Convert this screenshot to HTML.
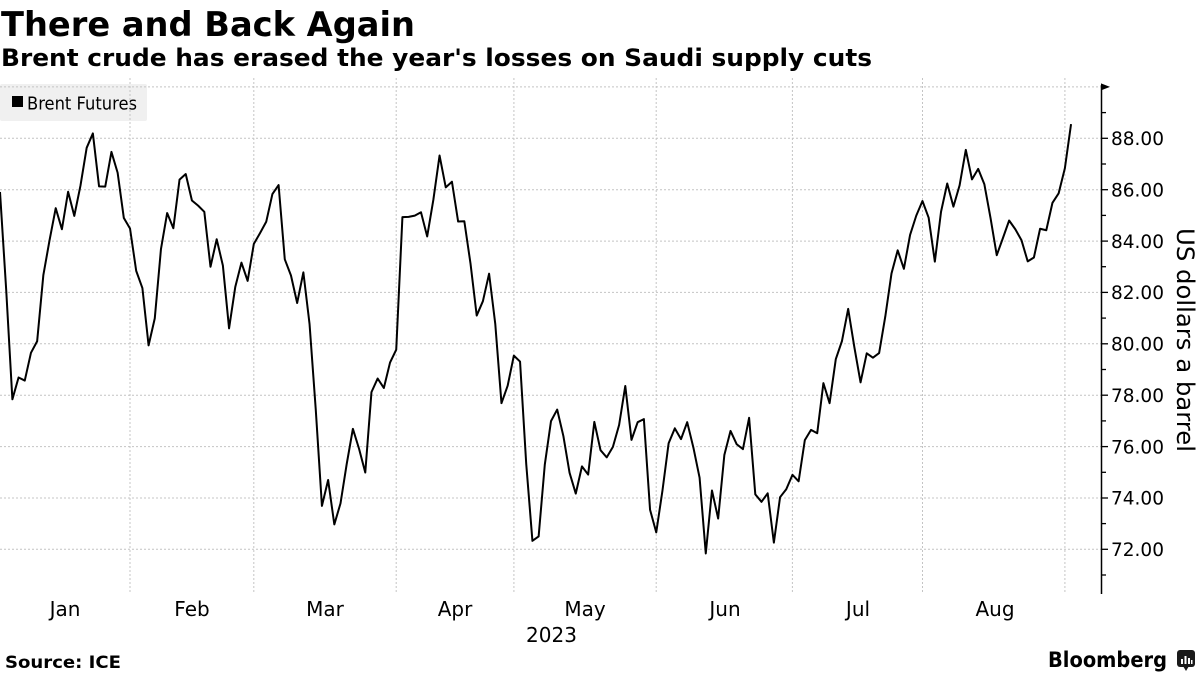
<!DOCTYPE html>
<html>
<head>
<meta charset="utf-8">
<style>
html,body{margin:0;padding:0;background:#fff;}
svg{display:block;}
</style>
</head>
<body>
<svg width="1200" height="675" viewBox="0 0 1200 675" xmlns="http://www.w3.org/2000/svg">
  <rect x="0" y="0" width="1200" height="675" fill="#ffffff"/>

  <!-- Title -->
  <text x="1" y="36" font-family="'DejaVu Sans', 'Liberation Sans', sans-serif" font-weight="bold" font-size="34" textLength="414" lengthAdjust="spacingAndGlyphs" fill="#000">There and Back Again</text>
  <text x="1" y="66" font-family="'DejaVu Sans', 'Liberation Sans', sans-serif" font-weight="bold" font-size="24" textLength="871" lengthAdjust="spacingAndGlyphs" fill="#000">Brent crude has erased the year's losses on Saudi supply cuts</text>

  <!-- Legend box -->
  <rect x="0" y="84" width="147" height="37" rx="2" fill="#f0f0f0"/>
  <rect x="12" y="96" width="11" height="11" fill="#000"/>
  <text x="27" y="109.5" font-family="'DejaVu Sans', 'Liberation Sans', sans-serif" font-size="17.5" textLength="110" lengthAdjust="spacingAndGlyphs" fill="#000">Brent Futures</text>

  <!-- Horizontal gridlines -->
  <g stroke="#c4c4c4" stroke-width="1" stroke-dasharray="2,2" fill="none">
    <line x1="0" x2="1101" y1="86.9" y2="86.9"/>
    <line x1="0" x2="1101" y1="138.3" y2="138.3"/>
    <line x1="0" x2="1101" y1="189.7" y2="189.7"/>
    <line x1="0" x2="1101" y1="241.1" y2="241.1"/>
    <line x1="0" x2="1101" y1="292.4" y2="292.4"/>
    <line x1="0" x2="1101" y1="343.8" y2="343.8"/>
    <line x1="0" x2="1101" y1="395.2" y2="395.2"/>
    <line x1="0" x2="1101" y1="446.6" y2="446.6"/>
    <line x1="0" x2="1101" y1="498.0" y2="498.0"/>
    <line x1="0" x2="1101" y1="549.3" y2="549.3"/>
  </g>
  <!-- Vertical gridlines (month ends) -->
  <g stroke="#c4c4c4" stroke-width="1" stroke-dasharray="2,2" fill="none">
    <line x1="130.0" x2="130.0" y1="78" y2="594"/>
    <line x1="253.8" x2="253.8" y1="78" y2="594"/>
    <line x1="396.2" x2="396.2" y1="78" y2="594"/>
    <line x1="513.9" x2="513.9" y1="78" y2="594"/>
    <line x1="656.2" x2="656.2" y1="78" y2="594"/>
    <line x1="792.4" x2="792.4" y1="78" y2="594"/>
    <line x1="922.5" x2="922.5" y1="78" y2="594"/>
    <line x1="1064.9" x2="1064.9" y1="78" y2="594"/>
  </g>

  <!-- Data line -->
  <g transform="matrix(6.191 0 0 -25.69 0 2399.02)">
    <polyline fill="none" stroke="#000" stroke-width="2" stroke-linejoin="round" vector-effect="non-scaling-stroke"
      points="0,85.91 1,82.10 2,77.84 3,78.69 4,78.57 5,79.65 6,80.10 7,82.67 8,84.03 9,85.28 10,84.46 11,85.92 12,84.98 13,86.16 14,87.63 15,88.19 16,86.13 17,86.12 18,87.47 19,86.66 20,84.90 21,84.49 22,82.84 23,82.17 24,79.94 25,80.99 26,83.69 27,85.09 28,84.50 29,86.39 30,86.61 31,85.58 32,85.38 33,85.14 34,83.00 35,84.07 36,83.05 37,80.60 38,82.21 39,83.16 40,82.45 41,83.89 42,84.31 43,84.75 44,85.83 45,86.18 46,83.29 47,82.66 48,81.59 49,82.78 50,80.77 51,77.45 52,73.69 53,74.70 54,72.97 55,73.79 56,75.32 57,76.69 58,75.91 59,74.99 60,78.12 61,78.65 62,78.28 63,79.27 64,79.77 65,84.93 66,84.94 67,84.99 68,85.12 69,84.18 70,85.61 71,87.33 72,86.09 73,86.31 74,84.76 75,84.77 76,83.12 77,81.10 78,81.66 79,82.73 80,80.77 81,77.69 82,78.37 83,79.54 84,79.31 85,75.32 86,72.33 87,72.50 88,75.30 89,76.99 90,77.44 91,76.41 92,74.98 93,74.17 94,75.23 95,74.91 96,76.96 97,75.86 98,75.58 99,75.99 100,76.84 101,78.36 102,76.26 103,76.95 104,77.07 105,73.54 106,72.66 107,74.28 108,76.13 109,76.71 110,76.29 111,76.95 112,75.96 113,74.79 114,71.84 115,74.29 116,73.20 117,75.67 118,76.61 119,76.09 120,75.90 121,77.12 122,74.14 123,73.85 124,74.18 125,72.26 126,74.03 127,74.34 128,74.90 129,74.65 130,76.25 131,76.65 132,76.52 133,78.47 134,77.69 135,79.40 136,80.11 137,81.36 138,79.87 139,78.50 140,79.63 141,79.46 142,79.64 143,81.07 144,82.74 145,83.64 146,82.92 147,84.24 148,84.99 149,85.56 150,84.91 151,83.20 152,85.14 153,86.24 154,85.34 155,86.17 156,87.55 157,86.40 158,86.81 159,86.21 160,84.89 161,83.45 162,84.12 163,84.80 164,84.46 165,84.03 166,83.21 167,83.36 168,84.48 169,84.42 170,85.49 171,85.86 172,86.83 173,88.55"/>
  </g>

  <!-- Right axis -->
  <line x1="1101.5" x2="1101.5" y1="85" y2="594" stroke="#000" stroke-width="1.5"/>
  <polygon points="1101,83.4 1110,86.9 1101,90.4" fill="#000"/>
  <g stroke="#000" stroke-width="1.3">
    <line x1="1101" x2="1108" y1="138.3" y2="138.3"/>
    <line x1="1101" x2="1108" y1="189.7" y2="189.7"/>
    <line x1="1101" x2="1108" y1="241.1" y2="241.1"/>
    <line x1="1101" x2="1108" y1="292.4" y2="292.4"/>
    <line x1="1101" x2="1108" y1="343.8" y2="343.8"/>
    <line x1="1101" x2="1108" y1="395.2" y2="395.2"/>
    <line x1="1101" x2="1108" y1="446.6" y2="446.6"/>
    <line x1="1101" x2="1108" y1="498.0" y2="498.0"/>
    <line x1="1101" x2="1108" y1="549.3" y2="549.3"/>
    <line x1="1101" x2="1106" y1="112.6" y2="112.6"/>
    <line x1="1101" x2="1106" y1="164.0" y2="164.0"/>
    <line x1="1101" x2="1106" y1="215.4" y2="215.4"/>
    <line x1="1101" x2="1106" y1="266.7" y2="266.7"/>
    <line x1="1101" x2="1106" y1="318.1" y2="318.1"/>
    <line x1="1101" x2="1106" y1="369.5" y2="369.5"/>
    <line x1="1101" x2="1106" y1="420.9" y2="420.9"/>
    <line x1="1101" x2="1106" y1="472.3" y2="472.3"/>
    <line x1="1101" x2="1106" y1="523.6" y2="523.6"/>
    <line x1="1101" x2="1106" y1="575.0" y2="575.0"/>
  </g>
  <g font-family="'DejaVu Sans', 'Liberation Sans', sans-serif" font-size="18.5" fill="#000">
    <text x="1111" y="145">88.00</text>
    <text x="1111" y="196.4">86.00</text>
    <text x="1111" y="247.8">84.00</text>
    <text x="1111" y="299.1">82.00</text>
    <text x="1111" y="350.5">80.00</text>
    <text x="1111" y="401.9">78.00</text>
    <text x="1111" y="453.3">76.00</text>
    <text x="1111" y="504.7">74.00</text>
    <text x="1111" y="556">72.00</text>
  </g>
  <text transform="translate(1177,228) rotate(90)" font-family="'DejaVu Sans', 'Liberation Sans', sans-serif" font-size="24" textLength="224" lengthAdjust="spacingAndGlyphs" fill="#000">US dollars a barrel</text>

  <!-- X axis labels -->
  <g font-family="'DejaVu Sans', 'Liberation Sans', sans-serif" font-size="20" fill="#000" text-anchor="middle">
    <text x="65" y="616">Jan</text>
    <text x="192" y="616">Feb</text>
    <text x="325" y="616">Mar</text>
    <text x="455" y="616">Apr</text>
    <text x="585" y="616">May</text>
    <text x="725" y="616">Jun</text>
    <text x="858" y="616">Jul</text>
    <text x="995" y="616">Aug</text>
    <text x="551.5" y="642">2023</text>
  </g>

  <!-- Footer -->
  <text x="5" y="668" font-family="'DejaVu Sans', 'Liberation Sans', sans-serif" font-weight="bold" font-size="17" textLength="116" lengthAdjust="spacingAndGlyphs" fill="#000">Source: ICE</text>
  <text x="1048" y="667" font-family="'DejaVu Sans', 'Liberation Sans', sans-serif" font-weight="bold" font-size="21" textLength="119" lengthAdjust="spacingAndGlyphs" fill="#000">Bloomberg</text>
  <g>
    <rect x="1177" y="650" width="18" height="17" rx="3" fill="#1a1a1a"/>
    <polygon points="1183,666 1186,671 1189,666" fill="#1a1a1a"/>
    <rect x="1181" y="659" width="2" height="5" fill="#fff"/>
    <rect x="1184.5" y="656" width="2" height="8" fill="#fff"/>
    <rect x="1188" y="658" width="2" height="6" fill="#fff"/>
    <rect x="1191" y="660" width="1.5" height="4" fill="#fff"/>
  </g>
</svg>
</body>
</html>
